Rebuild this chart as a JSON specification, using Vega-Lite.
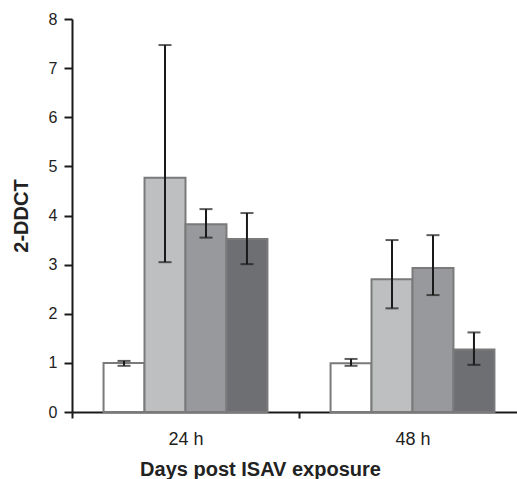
{
  "$schema": "https://vega.github.io/schema/vega-lite/v6.json",
  "width": 454,
  "height": 393,
  "autosize": {"type": "none"},
  "padding": {"left": 72, "top": 19, "right": 0, "bottom": 67},
  "config": {
    "view": {"stroke": null},
    "font": "Liberation Sans",
    "axis": {"grid": false, "domainColor": "#1a1a1a", "domainWidth": 2, "tickColor": "#1a1a1a", "tickWidth": 2, "labelColor": "#222", "titleColor": "#222", "labelFont": "Liberation Sans", "titleFont": "Liberation Sans"}
  },
  "data": {
    "values": [
      {"time": "24 h", "group": "A", "value": 1.0, "lo": 0.94, "hi": 1.04},
      {"time": "24 h", "group": "B", "value": 4.77, "lo": 3.05, "hi": 7.47},
      {"time": "24 h", "group": "C", "value": 3.82, "lo": 3.55, "hi": 4.13},
      {"time": "24 h", "group": "D", "value": 3.52, "lo": 3.01, "hi": 4.05},
      {"time": "48 h", "group": "A", "value": 0.99, "lo": 0.94, "hi": 1.08},
      {"time": "48 h", "group": "B", "value": 2.70, "lo": 2.11, "hi": 3.50},
      {"time": "48 h", "group": "C", "value": 2.93, "lo": 2.38, "hi": 3.60},
      {"time": "48 h", "group": "D", "value": 1.27, "lo": 0.96, "hi": 1.62}
    ]
  },
  "encoding": {
    "x": {
      "field": "time", "type": "nominal",
      "scale": {"paddingInner": 0.278, "paddingOuter": 0.139},
      "axis": {"title": "Days post ISAV exposure", "labelAngle": 0, "labelFontSize": 18, "titleFontSize": 20, "titleFontWeight": "bold", "titleX": 188, "tickOffset": -113.5, "labelOffset": 113.5, "tickSize": 6, "labelPadding": 12, "titlePadding": 11}
    },
    "xOffset": {"field": "group", "type": "nominal", "scale": {"paddingInner": 0, "paddingOuter": 0}}
  },
  "layer": [
    {
      "mark": {"type": "bar", "stroke": "#7a7a7a", "strokeWidth": 2},
      "encoding": {
        "y": {"field": "value", "type": "quantitative", "scale": {"domain": [0, 8]},
          "axis": {"title": "2-DDCT", "values": [0,1,2,3,4,5,6,7,8], "labelFontSize": 16, "titleFontSize": 20, "titleFontWeight": "bold", "tickSize": 8, "labelPadding": 7, "titlePadding": 17}},
        "fill": {"field": "group", "type": "nominal", "legend": null,
          "scale": {"domain": ["A","B","C","D"], "range": ["#ffffff", "#bebfc1", "#98999c", "#6e6f72"]}}
      }
    },
    {
      "mark": {"type": "rule", "color": "#1a1a1a", "strokeWidth": 2},
      "encoding": {"y": {"field": "lo", "type": "quantitative"}, "y2": {"field": "hi"}}
    },
    {
      "mark": {"type": "tick", "color": "#1a1a1a", "thickness": 2, "size": 13},
      "encoding": {"y": {"field": "lo", "type": "quantitative"}}
    },
    {
      "mark": {"type": "tick", "color": "#1a1a1a", "thickness": 2, "size": 13},
      "encoding": {"y": {"field": "hi", "type": "quantitative"}}
    }
  ]
}
